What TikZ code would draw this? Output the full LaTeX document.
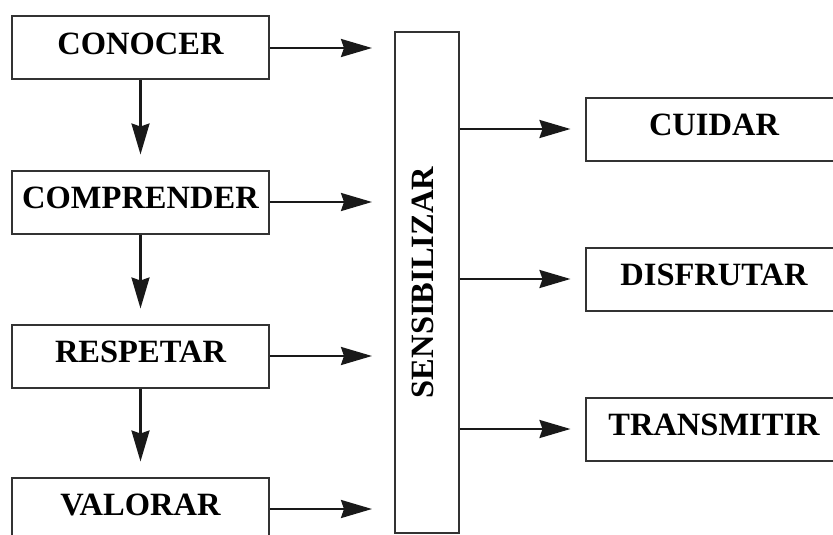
\documentclass[tikz,border=0pt]{standalone}
\usepackage{fontspec}
\setmainfont{Liberation Serif}
\usetikzlibrary{arrows.meta}
\newcommand{\caja}[4]{
\node[caja] (#1) at (#2,#3) {#4};}

\begin{document}
\begin{tikzpicture}[x=1pt,y=-1pt,
  caja/.style={draw=black!80,line width=2pt,minimum width=257pt,minimum height=63pt,
    inner sep=0pt,text depth=8pt,font=\bfseries\fontsize{32.5}{36}\selectfont},
  flecha/.style={-{Stealth[length=31pt,width=18pt,inset=3pt]},line width=2.4pt,black!90}]
\clip (0,0) rectangle (833,535);

\caja{conocer}{140.5}{48}{CONOCER}
\caja{comprender}{140.5}{202}{COMPRENDER}
\caja{respetar}{140.5}{356}{RESPETAR}
\caja{valorar}{140.5}{509}{VALORAR}

\node[caja,rotate=90,minimum width=501pt,minimum height=64pt] (sens) at (427,282.5) {SENSIBILIZAR};

\caja{cuidar}{714}{129}{CUIDAR}
\caja{disfrutar}{714}{279}{DISFRUTAR}
\caja{transmitir}{714}{429}{TRANSMITIR}

\foreach \a/\b in {conocer/comprender,comprender/respetar,respetar/valorar}{
	\draw[flecha,shorten >=15pt] (\a) -- (\b);
}
\foreach \a in {conocer,comprender,respetar,valorar}{
	\draw[flecha,shorten >=22pt] (\a.east) -- (\a.east -| sens.north);
}
\foreach \a in {cuidar,disfrutar,transmitir}{
	\draw[flecha,shorten >=14pt] (sens.south |- \a) -- (\a.west);
}

\end{tikzpicture}
\end{document}
